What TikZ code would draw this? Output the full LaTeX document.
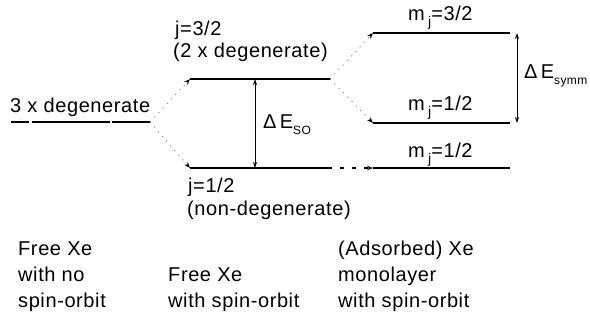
\documentclass[tikz,border=0pt]{standalone}
\usepackage{fontspec}
\setmainfont{Liberation Sans}[LetterSpace=3]
\usetikzlibrary{arrows.meta}
\newcommand{\lowtext}[2][12]{\raisebox{-6pt}{\fontsize{#1}{#1}\selectfont #2}}
\tikzset{
    every node/.style={font=\fontsize{20}{24}\selectfont, inner sep=0pt, anchor=base west},
    level/.style={line width=1.2pt},
    splitline/.style={gray, line width=0.8pt, dash pattern=on 1.2pt off 5pt,
        -{Stealth[length=6pt, width=4.5pt, black]}},
    gapline/.style={line width=0.9pt, {Stealth[length=6pt, width=4pt]}-{Stealth[length=6pt, width=4pt]}}
}
\begin{document}
\begin{tikzpicture}[x=1pt, y=-1pt]
    \useasboundingbox (0,0) rectangle (590,330);
    % Level points
    \coordinate (free) at (150,122);
    \coordinate (jthreeL) at (190,79);
    \coordinate (jthreeR) at (330,79);
    \coordinate (joneL) at (190,168);
    \coordinate (joneR) at (332,168);
    \coordinate (mthreeL) at (373,33);
    \coordinate (mthreeR) at (510,33);
    \coordinate (monetopL) at (373,123);
    \coordinate (monetopR) at (510,123);
    \coordinate (monebotL) at (373,168);
    \coordinate (monebotR) at (510,168);
    % Free Xe, no spin-orbit
    \draw[level] (11,122) -- (29,122);
    \draw[level] (32,122) -- (110,122);
    \draw[level] (112,122) -- (free);
    \node (degen) at (10,112) {3 x degenerate};
    % Free Xe, spin-orbit
    \draw[level] (jthreeL) -- (jthreeR);
    \draw[level] (joneL) -- (joneR);
    \draw[splitline] (free) -- (jthreeL);
    \draw[splitline] (free) -- (joneL);
    \draw[gapline] (255,79) -- (255,168);
    \node (dEso) at (263,128) {Δ\,E\lowtext{SO}};
    \node (jthree) at (175,35) {j=3/2};
    \node (jthreedeg) at (173,57) {(2 x degenerate)};
    \node (jone) at (188,192) {j=1/2};
    \node (jonedeg) at (187,215) {(non-degenerate)};
    % Adsorbed Xe monolayer
    \draw[level] (mthreeL) -- (mthreeR);
    \draw[level] (monetopL) -- (monetopR);
    \draw[level] (monebotL) -- (monebotR);
    \draw[splitline] (jthreeR) -- (mthreeL);
    \draw[splitline] (jthreeR) -- (monetopL);
    \draw[level, dash pattern=on 4pt off 8pt, -{Stealth[length=6pt, width=4.5pt]}] (joneR) ++(8,0) -- (monebotL);
    \draw[gapline] (517,33) -- (517,123);
    \node (dEsymm) at (524,78) {Δ\,E\lowtext{symm}};
    \node (mthree) at (408,20) {m\,\lowtext[14]{j}=3/2};
    \node (monetop) at (408,110) {m\,\lowtext[14]{j}=1/2};
    \node (monebot) at (408,157) {m\,\lowtext[14]{j}=1/2};
    % Captions
    \node (capA) at (18,255) {Free Xe};
    \node at (18,281) {with no};
    \node at (18,307) {spin-orbit};
    \node (capB) at (168,281) {Free Xe};
    \node at (168,307) {with spin-orbit};
    \node (capC) at (338,255) {(Adsorbed) Xe};
    \node at (338,281) {monolayer};
    \node at (338,307) {with spin-orbit};
\end{tikzpicture}
\end{document}
